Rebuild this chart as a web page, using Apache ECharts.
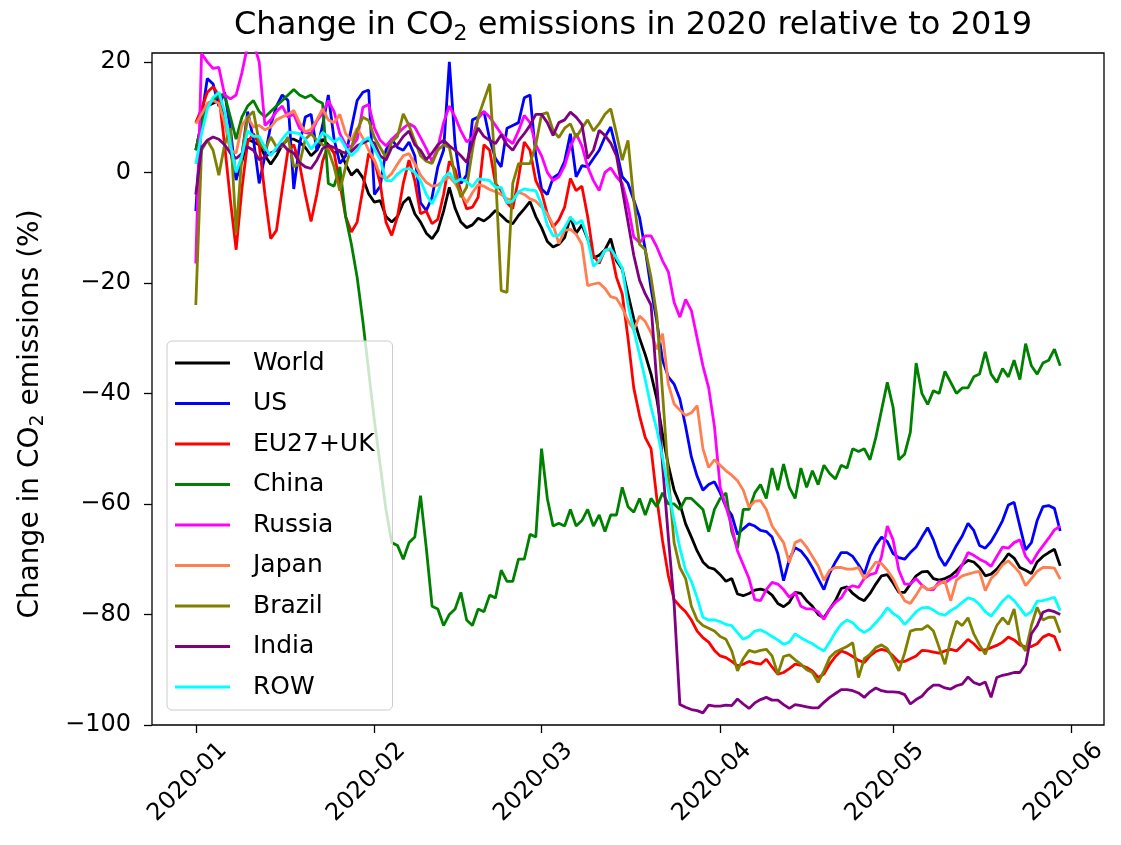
<!DOCTYPE html>
<html>
<head>
<meta charset="utf-8">
<title>Change in CO2 emissions in 2020 relative to 2019</title>
<script src="https://cdn.jsdelivr.net/npm/echarts@6/dist/echarts.min.js"></script>
<style>
html, body { margin: 0; padding: 0; background: #fff; }
#chart { width: 1121px; height: 845px; }
</style>
</head>
<body>
<div id="chart"></div>
<script>
// daily values, 2020-01-01 .. 2020-05-30 (151 days), % change vs 2019
var startDate = '2020-01-01';
var monthTicks = ['2020-01-01', '2020-02-01', '2020-03-01', '2020-04-01', '2020-05-01', '2020-06-01'];
var yTicks = [-100, -80, -60, -40, -20, 0, 20];
var seriesNames = ['World', 'US', 'EU27+UK', 'China', 'Russia', 'Japan', 'Brazil', 'India', 'ROW'];

var world = [
    4, 9, 12, 12.5, 13, 10, 4, -1, 2, 6,
    5.5, 5, 3, 1.5, 3, 5, 6, 6, 5.5, 4.5,
    3, 4, 6, 5, 3.5, 4, 1.5, -0.5, 0.5, -1,
    -3.9, -5.4, -5.1, -8, -9, -8, -5.5, -4.5, -7.5, -9,
    -11, -12, -10.5, -7, -2.7, -6.5, -9, -10, -9.5, -8.3,
    -8.8, -8, -6.9, -7.8, -8.8, -9.3, -7.8, -6.6, -5.3, -8,
    -10, -12.5, -13.5, -13, -11.8, -8.1, -11, -9.5, -12, -15.5,
    -15, -14, -12, -16, -17.5, -22, -26.5, -30, -33, -36.5,
    -41, -47.5, -53, -57.5, -60, -63.6, -66, -68.5, -70.5, -71.5,
    -71.8, -72.8, -74, -73.5, -76.3, -76.6, -76.2, -75.6, -75.4, -75.7,
    -76.5, -78, -78.6, -77.8, -76, -76.2, -77.5, -78.5, -80, -80.6,
    -79, -77.5, -75.3, -75, -76.2, -77, -77.5, -76.2, -74.5, -73,
    -72.8, -74.3, -76, -76, -74.5, -73, -72.3, -72.2, -73.5, -73.8,
    -73.5, -73, -72.1, -71, -70.2, -70.5, -71.5, -73, -72.7, -71.8,
    -70.5, -69, -69.8, -71.5, -72, -72.6, -70.5, -69.5, -68.8, -68.2, -71.2
];
var us = [
    -7, 10, 17, 16, 12, 14.5, 8, -1.4, 3, 11,
    6, -2, 3, 8.5, 12, 14, 13, -3, 5, 10,
    10.5, 4, 8.5, 14, 6, 1.6, 3, 8, 13, 14.5,
    14.9, -4, -2.5, 4, 6, 4.5, 4, 5.5, 3, -5.5,
    -6.9, -4.5, 1, 4, 20, 5, -2, -0.5, 9.5, 10,
    11, 6, 2.5, 1, 8, 8.5, 9, 13.5, 14, 3,
    -3, -4, -1, -0.3, 2, 7, -0.8, 1.2, 1, 2.5,
    4, 6.4, 8.2, 4, -0.8, -2, -5, -8.1, -14, -21,
    -27, -34, -37, -38.3, -41, -46, -51.5, -55, -57.5, -56.5,
    -56, -58, -60.5, -62, -65.5, -64.5, -63.6, -64, -64.8, -65,
    -66, -69, -73.9, -70, -67.9, -68.5, -69.8, -71.5, -73.5, -75.5,
    -72.5, -70.5, -68.8, -68.8, -69.5, -71, -72.7, -69.5, -67.5, -66,
    -66.8, -69, -69.7, -70, -68.8, -67.8, -66, -64.3, -66.5, -69.5,
    -71.2, -69.5, -67.5, -65.8, -63.5, -64.8, -67.5, -68, -66.8, -65,
    -63, -60.2, -59.7, -64, -68.3, -67, -63, -60.5, -60.3, -60.8, -64.9
];
var eu = [
    9, 11.5, 14.5, 15.5, 14, 5, -5, -14, -3, 5.5,
    7, 5, -4, -12, -10.5, -3, 4, 5, 1.5, -4,
    -8.9, -4, 2, 5, 3.5, -2, -8, -10.8, -9, -3,
    3.4, 2, -2, -9, -11.4, -8, -2, 2.2, -1.5, -7.5,
    -7, -9.3, -8.5, -4, 2, 0.5, -3.5, -6.6, -6.3, -4.5,
    5, 4, -2, -3.3, -5.5, -6.6, -1, 5.5, 4, -1.5,
    -3.6, -7.5, -9.9, -8.6, -6.3, -1.1, -3.3, -2.5, -8, -15,
    -16.5, -14, -14, -19, -22, -30, -39, -44, -48, -50,
    -59, -66.7, -73, -77.3, -78.5, -79.5, -81, -83, -84.2, -85,
    -86.5, -87.5, -87.8, -88.5, -89.3, -89, -88.5, -88.8, -89, -88.1,
    -89.5, -90.8, -90.5, -89.8, -89, -89.2, -89.6, -90.2, -91.4, -90.8,
    -89, -87.6, -86.6, -87, -87.6, -88.3, -88.7, -87.5, -86.7, -86.3,
    -86.6, -87.5, -88.6, -88.5, -88, -87.5, -86.5, -86.6, -86.8, -87,
    -86.6, -86.3, -86.6, -85.6, -84.5, -85.3, -86.4, -86.4, -86, -85.6,
    -85, -84.1, -84.6, -85.5, -85.9, -85.8, -85.3, -84.1, -83.6, -84, -86.6
];
var china = [
    4, 9, 12, 13, 14, 14, 10, 6, 10, 12,
    13, 11, 10, 11, 12, 13, 14, 15, 14, 13.5,
    14, 13, 12.5, -2, -2.5, 1, -8, -13, -19, -27,
    -36, -45, -53, -61, -67, -67.5, -70, -67, -66, -58.5,
    -68, -78.5, -79, -82, -80, -79, -76, -81, -82, -79,
    -79.5, -76.5, -77, -72, -74, -74, -70, -70, -65.5, -66,
    -50, -59, -64, -63.5, -64, -61, -64, -63, -61, -64,
    -62, -65, -62, -62, -57, -60.5, -61.5, -59, -62, -59,
    -60.5, -58, -60, -60, -61, -59, -59, -60, -61, -65,
    -61, -59, -58, -65, -68, -61, -61, -58, -56.5, -59,
    -53.5, -57.5, -52.8, -57, -59, -53.5, -57, -54, -56.5, -53,
    -54.5, -55.5, -53, -53.5, -50, -50.5, -50, -52, -48, -43,
    -38, -42.5, -52, -51, -47, -34.5, -40, -42, -39.5, -40,
    -36, -38, -40, -39, -39, -37, -36.5, -32.5, -36.5, -38,
    -35.5, -37, -34, -37.5, -31, -35, -36.5, -34.5, -34, -32, -35
];
var russia = [
    -16.5, 21.5, 20, 18.8, 19, 14, 13.3, 14, 18, 23,
    23.5, 20, 8.5, 9.5, 11, 12, 10, 10.5, 8, 7.2,
    7, 9.3, 10.7, 13, 11, 7, 5, 4.6, 6, 11.8,
    12.3, 8, 5.8, 4.8, 6, 7, 8, 8.8, 8.2, 6.3,
    4.3, 2, 4.5, 9, 12, 10, 7.5, 5.5, 6.3, 9.8,
    11, 10, 8.5, 7, 6, 5.2, 7.5, 10.3, 9, 5,
    3, 0, -1.5, -0.8, 1.2, 4.6, 7, 4.8, 1, -1.5,
    -3.3, 0, 0.8, -0.8, -2, -6, -11.7, -12.7, -11.5, -11.5,
    -13.5, -16, -18, -23.5, -26.2, -23, -25, -30, -35, -39,
    -46, -57, -60.5, -64, -68.5, -71, -73.5, -77.3, -77.5, -75.5,
    -74.2, -74.5, -75.5, -76.9, -76, -78.5, -79, -79, -79.5, -80.9,
    -79, -77.8, -77, -75.3, -74.8, -75.1, -73.5, -72.8, -72.5, -69.5,
    -64, -66.5, -72, -74.5, -74.5, -73.5, -74.7, -75.5, -75.5, -74,
    -74.3, -73.5, -73, -71, -68.8, -69.3, -70, -70.5, -71.3, -69.5,
    -67.8, -68, -67, -66.5, -69.5, -70.8, -69, -67.6, -66.2, -64.7, -64
];
var japan = [
    8.8, 10.5, 12.5, 13, 12.5, 9, 4, 3.5, 8.5, 10,
    8.2, 8.5, 7.7, 8.2, 9.5, 10, 10.5, 11.2, 9, 7.3,
    7.8, 9.5, 11.5, 9.5, 9, 10.5, 7, 5.8, 8, 6.2,
    4, 2.2, -0.5, -1.2, -0.2, 1.5, 3, 3.4, 1.6, -0.5,
    -1.8, -2.5, -2.3, -1.5, -0.8, -2, -3.8, -5.5, -3.7, -2.2,
    -2.5, -3.1, -3.5, -4, -4.8, -5, -3.6, -4, -4.8, -5.2,
    -6.3, -7.5, -9.5, -12.9, -10.5, -10.3, -11.2, -13, -20.5, -20.2,
    -20, -21, -22.5, -22.8, -24.5, -26.8, -28.5, -26, -27, -29,
    -32, -29.2, -38.3, -41.9, -43, -44, -43.5, -42.2, -50, -53.4,
    -52, -53, -54, -54.8, -55.8, -57.5, -60.6, -59.5, -59.4, -61,
    -64, -65.5, -67, -70.6, -67, -66.5, -67.8, -69.5, -71.2, -73.8,
    -72, -71.5, -71.5, -71.8, -71.8, -71.5, -73.5, -72, -70.5, -70.8,
    -72, -73.5, -75.7, -77.5, -78, -76.5, -74.8, -75.5, -75.2, -74.5,
    -74, -77.5, -73.8, -73, -72.7, -72.4, -72.2, -75.7, -73.5, -72.5,
    -71, -70.3, -71.3, -72.5, -74.8, -73.5, -72.2, -71.5, -71.5, -71.6, -73.6
];
var brazil = [
    -24, 4, 5.8, 4, -0.5, 5, 8, -11, 3, 10,
    11, 5.5, 4, 6.4, 4.6, 4.6, 6.4, 1, 1.5, 6,
    7, 5.8, 5, 4, 1, -3.3, 1, 4.6, 7.6, 10,
    9.4, 6.3, 4.5, 2.7, 5.5, 6.5, 10.6, 8.5, 5.7, 3,
    2, 1.6, 4, 5, 4.5, -0.8, -4.5, -2.7, 4, 10,
    13, 16, 0, -21.4, -21.7, -2, 1.6, 1.6, 1.6, 5,
    10.5, 10.8, 7.6, 6.3, 8, 8.8, 6.3, 8, 9.5, 7.5,
    8.8, 10.5, 11.5, 7, 2.2, 5.8, -5, -13, -14, -19,
    -26, -40, -55, -67, -71.5, -73.5, -78.5, -81, -82, -82.5,
    -83, -84, -84.5, -86.6, -90.2, -88, -86.5, -86.8, -86.5, -86.3,
    -87.5, -90.8, -87.6, -87.3, -88.2, -89, -90, -90.5, -92.3, -90.2,
    -87.8, -86.8, -86.3, -85.8, -85.1, -91.4, -88, -87.2, -86, -85.5,
    -86.2, -88, -90.2, -87, -83, -82.7, -82.7, -82, -83, -86,
    -89, -84.5, -81.2, -82, -80.6, -83.5, -85.5, -87.2, -84.5, -82,
    -80.6, -81.8, -79, -85, -86.6, -82, -78.7, -81, -80.5, -80.5, -83.3
];
var india = [
    -4, 4.5, 5.8, 6.4, 6, 5, 3.5, 2.5, 3.4, 4.6,
    4, 2.3, 2.8, 3.5, 4, 5.2, 4, 3.5, 1.8, 1,
    0.7, 2.2, 4.3, 4.9, 4.5, 3.8, 3.5, 3.8, 4.8, 5.3,
    5.8, 5.3, 3, 2.2, 4.5, 5, 6.5, 7.5, 5, 4,
    2.3, 3.5, 5, 5.8, 4.8, 4, 3, 1.8, 5.5, 8,
    6.5, 5.8, 5.2, 6.8, 5, 4, 5.7, 7, 8.5, 10.5,
    10.5, 9, 6.7, 9, 9.5, 10.9, 10, 8.7, 2.5, 4,
    7.6, 6.7, 5.3, 3, -3, -9, -15, -19.5, -22, -24,
    -38, -53, -66, -78, -96.3, -96.8, -97.2, -97.4, -97.8, -96.4,
    -96.6, -96.6, -96.4, -96.5, -95.3, -96.2, -97, -96, -95.4, -95,
    -95.5, -95.5, -96.3, -97, -96.3, -96.5, -96.7, -96.9, -96.9, -95.9,
    -95, -94.3, -93.6, -93.6, -93.8, -94.2, -95, -94, -93.3, -93.8,
    -94, -94, -94.1, -94.5, -96.2, -95.4, -94.8, -93.6, -92.8, -92.8,
    -93.3, -93.5, -92.9, -92.6, -91.3, -92.3, -92.7, -92.2, -95, -91.4,
    -91, -90.8, -90.5, -90.5, -89, -83.5, -82, -79.6, -79.2, -79.5, -80
];
var row = [
    1.5, 7, 11.5, 13.5, 14.5, 11, 5, 0, 3, 7.5,
    6.5, 6.5, 4.5, 3, 4.5, 6, 7.3, 7.2, 7, 6,
    4.2, 5.5, 7.2, 6.5, 5.5, 6.3, 4.5, 3, 4, 5.7,
    6.3, 4.2, 2.3, -1.5, -1.5, -0.3, 0.5, 0.7, 0, -1.5,
    -4, -5.7, -3.5, -1, 0, -1.8, -1.2, -1.7, -2.6, -1.2,
    -1.3, -1.5, -2.7, -2.7, -5.5, -5.2, -3.5, -3, -3.2, -3.3,
    -5.8, -9.5, -11.5, -11.4, -10, -8.1, -9.3, -8.7, -12, -17,
    -16, -14.1, -13.8, -15.5, -17.3, -24, -28.5, -33, -37.5, -42.5,
    -46.5, -51.6, -57.5, -63, -68, -72, -74, -77, -80.5, -81,
    -81, -81.3, -81.8, -82, -83.3, -84.5, -84, -83, -82.8, -83.3,
    -84, -84.6, -85.4, -85, -83.5, -84.2, -84.8, -85.3, -86, -86.6,
    -85, -83.2, -81.8, -81, -81.5, -82.6, -83.3, -82.6, -81.5, -80.3,
    -78.8, -79.8, -80.5, -81.8, -80.7, -79.5, -78.8, -78.7, -79.2, -79.9,
    -80.1, -79.3, -78.7, -77.8, -77, -77.3, -78.2, -79.5, -80.3, -79,
    -77.6, -76.6, -77.5, -78.8, -80.2, -79.5, -77.6, -77.5, -77.2, -76.9, -79.3
];

(function drawChart(){
    var chart = echarts.init(document.getElementById('chart'));
    var FONT = 'DejaVu Sans';
    var DAY = 86400000;
    var t0 = Date.parse(startDate + 'T00:00:00Z');
    var monthTs = monthTicks.map(function (s) { return Date.parse(s + 'T00:00:00Z'); });
    var allValues = [world, us, eu, china, russia, japan, brazil, india, row];
    var colors = ['#000000', '#0000ff', '#ff0000', '#008000', '#ff00ff', '#ff7f50', '#808000', '#800080', '#00ffff'];

    function withDates(vals) {
        return vals.map(function (v, i) { return [t0 + i * DAY, v]; });
    }
    function pad2(n) { return n < 10 ? '0' + n : '' + n; }

    var series = seriesNames.map(function (name, k) {
        return {
            name: name,
            type: 'line',
            data: withDates(allValues[k]),
            symbol: 'none',
            color: colors[k],
            lineStyle: { width: 2.8 },
            clip: true,
            emphasis: { disabled: true }
        };
    });

    var rich = {
        a: { fontFamily: FONT, fontSize: 32, fontWeight: 'normal', color: '#000', lineHeight: 38, verticalAlign: 'middle' },
        s: { fontFamily: FONT, fontSize: 22, fontWeight: 'normal', color: '#000', lineHeight: 16, verticalAlign: 'bottom' }
    };
    var richY = {
        a: { fontFamily: FONT, fontSize: 28, color: '#000', lineHeight: 35, verticalAlign: 'middle' },
        s: { fontFamily: FONT, fontSize: 19, color: '#000', lineHeight: 15, verticalAlign: 'bottom' }
    };

    var option = {
        animation: false,
        backgroundColor: '#ffffff',
        title: {
            text: '{a|Change in CO}{s|2}{a| emissions in 2020 relative to 2019}',
            left: 628,
            top: 2,
            textAlign: 'center',
            textStyle: { fontWeight: 'normal', rich: rich }
        },
        grid: {
            left: 152, right: 17, top: 53, bottom: 120,
            show: true, borderColor: '#000', borderWidth: 1.3,
            backgroundColor: 'transparent'
        },
        legend: {
            orient: 'vertical',
            left: 167,
            top: 341,
            data: seriesNames,
            icon: 'rect',
            itemWidth: 55,
            itemHeight: 3,
            itemGap: 12.5,
            padding: [8, 18, 9, 8],
            backgroundColor: 'rgba(255,255,255,0.8)',
            borderColor: '#cccccc',
            borderWidth: 1,
            borderRadius: 5,
            textStyle: { fontFamily: FONT, fontSize: 25, color: '#000', lineHeight: 28, padding: [0, 0, 0, 18] }
        },
        xAxis: {
            type: 'value',
            min: t0 - 7.6 * DAY,
            max: t0 + 157.6 * DAY,
            axisLine: { show: false, onZero: false },
            splitLine: { show: false },
            axisTick: { show: true, length: 8, customValues: monthTs, lineStyle: { color: '#000', width: 1.3 } },
            axisLabel: {
                customValues: monthTs,
                rotate: 45,
                align: 'center',
                verticalAlign: 'middle',
                padding: [0, 23, 0, 0],
                margin: 49,
                fontFamily: FONT,
                fontSize: 24,
                color: '#000',
                formatter: function (val) {
                    var d = new Date(val);
                    return d.getUTCFullYear() + '-' + pad2(d.getUTCMonth() + 1);
                }
            }
        },
        yAxis: {
            type: 'value',
            min: -100,
            max: 21.6,
            name: '{a|Change in CO}{s|2}{a| emissions (%)}',
            nameLocation: 'middle',
            nameGap: 104,
            nameRotate: 90,
            nameTextStyle: { rich: richY, padding: [0, 50, 0, 0] },
            axisLine: { show: false, onZero: false },
            splitLine: { show: false },
            axisTick: { show: true, length: 8, customValues: yTicks, lineStyle: { color: '#000', width: 1.3 } },
            axisLabel: {
                customValues: yTicks,
                margin: 21,
                fontFamily: FONT,
                fontSize: 24,
                color: '#000',
                formatter: function (v) { return String(v).replace('-', '\u2212'); }
            }
        },
        series: series
    };

    chart.setOption(option);
})();
</script>
</body>
</html>
